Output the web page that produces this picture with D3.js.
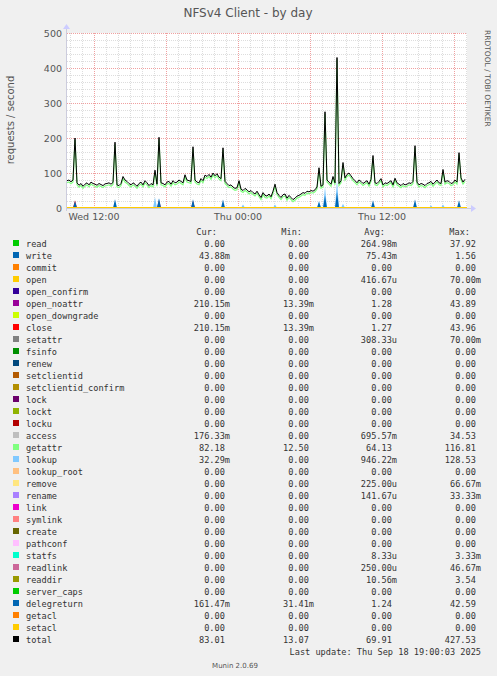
<!DOCTYPE html>
<html>
<head>
<meta charset="utf-8">
<script src="https://cdnjs.cloudflare.com/ajax/libs/d3/7.8.5/d3.min.js"></script>
<style>
  html, body { margin: 0; padding: 0; background: #f0f0f0; }
  svg { display: block; }
  text { font-family: "DejaVu Sans", sans-serif; fill: #555; }
  .mono { font-family: "DejaVu Sans Mono", monospace; font-size: 8.6px; fill: #333; white-space: pre; }
</style>
</head>
<body>
<svg id="chart" width="497" height="676"></svg>
<script>
// total requests/s, 10-minute samples from Wed 09:45
var total = [
  78,80,75,80,200,72,65,70,62,68,
  72,66,74,70,68,65,70,67,64,69,
  70,72,68,73,188,66,64,70,90,80,
  76,70,66,72,68,62,70,74,66,78,
  72,64,70,66,108,68,202,72,70,66,
  74,76,68,78,72,74,80,76,72,95,
  80,78,76,175,80,74,72,84,78,94,
  90,96,88,100,92,98,88,84,172,76,
  70,64,66,60,56,58,78,54,50,56,
  52,46,50,44,40,48,38,30,44,36,
  34,40,32,48,68,44,36,30,38,40,
  28,36,30,24,28,34,36,40,44,42,
  48,46,50,48,52,60,115,62,66,275,
  80,74,68,90,72,430,70,78,130,86,
  96,100,92,84,78,72,80,76,70,74,
  78,68,82,150,72,70,76,84,66,72,
  70,74,78,66,85,72,68,64,70,66,
  68,72,70,76,178,74,66,70,68,64,
  70,72,76,68,74,80,72,70,110,74,
  78,76,70,72,80,74,158,86,74,82
];
// small bursts near the baseline (sample index, value)
var accessSpikes = [[44, 30], [46, 28], [88, 10], [104, 10], [126, 20], [129, 60], [135, 80], [138, 12], [182, 8], [188, 10]];
var writeSpikes = [[4, 20], [24, 25], [46, 27], [63, 25], [78, 24], [126, 18], [129, 35], [135, 45], [153, 22], [174, 24], [196, 22]];
var closeSpikes = [[4, 22], [24, 8], [46, 22], [63, 20], [78, 12], [153, 10], [174, 12], [196, 10]];

var names = ["read","write","commit","open","open_confirm","open_noattr","open_downgrade","close","setattr","fsinfo","renew","setclientid","setclientid_confirm","lock","lockt","locku","access","getattr","lookup","lookup_root","remove","rename","link","symlink","create","pathconf","statfs","readlink","readdir","server_caps","delegreturn","getacl","setacl","total"];
var colors = ["#00cc00","#0066b3","#ff8000","#ffcc00","#330099","#990099","#ccff00","#ff0000","#808080","#008f00","#00487d","#b35a00","#b38f00","#6b006b","#8fb300","#b30000","#bebebe","#80ff80","#80c9ff","#ffc080","#ffe680","#aa80ff","#ee00cc","#ff8080","#666600","#ffbfff","#00ffcc","#cc6699","#999900","#00cc00","#0066b3","#ff8000","#ffcc00","#000000"];
var cur = ["0.00 ","43.88m","0.00 ","0.00 ","0.00 ","210.15m","0.00 ","210.15m","0.00 ","0.00 ","0.00 ","0.00 ","0.00 ","0.00 ","0.00 ","0.00 ","176.33m","82.18 ","32.29m","0.00 ","0.00 ","0.00 ","0.00 ","0.00 ","0.00 ","0.00 ","0.00 ","0.00 ","0.00 ","0.00 ","161.47m","0.00 ","0.00 ","83.01 "];
var min = ["0.00 ","0.00 ","0.00 ","0.00 ","0.00 ","13.39m","0.00 ","13.39m","0.00 ","0.00 ","0.00 ","0.00 ","0.00 ","0.00 ","0.00 ","0.00 ","0.00 ","12.50 ","0.00 ","0.00 ","0.00 ","0.00 ","0.00 ","0.00 ","0.00 ","0.00 ","0.00 ","0.00 ","0.00 ","0.00 ","31.41m","0.00 ","0.00 ","13.07 "];
var avg = ["264.98m","75.43m","0.00 ","416.67u","0.00 ","1.28 ","0.00 ","1.27 ","308.33u","0.00 ","0.00 ","0.00 ","0.00 ","0.00 ","0.00 ","0.00 ","695.57m","64.13 ","946.22m","0.00 ","225.00u","141.67u","0.00 ","0.00 ","0.00 ","0.00 ","8.33u","250.00u","10.56m","0.00 ","1.24 ","0.00 ","0.00 ","69.91 "];
var max = ["37.92 ","1.56 ","0.00 ","70.00m","0.00 ","43.89 ","0.00 ","43.96 ","70.00m","0.00 ","0.00 ","0.00 ","0.00 ","0.00 ","0.00 ","0.00 ","34.53 ","116.81 ","128.53 ","0.00 ","66.67m","33.33m","0.00 ","0.00 ","0.00 ","0.00 ","3.33m","46.67m","3.54 ","0.00 ","42.59 ","0.00 ","0.00 ","427.53 "];
var yTicks = [0, 100, 200, 300, 400, 500];

var svg = d3.select("#chart");
var pLeft = 67, pRight = 467, pTop = 33, pBottom = 208;
var t0 = new Date(2025, 8, 17, 9, 45);
var step = 10 * 60 * 1000;
var x = d3.scaleTime().domain([t0, new Date(+t0 + 200 * step)]).range([pLeft, pRight]);
var y = d3.scaleLinear().domain([0, 500]).range([pBottom, pTop]);
var tAt = function(i) { return new Date(+t0 + i * step); };

svg.append("rect").attr("x", pLeft).attr("y", pTop).attr("width", pRight - pLeft).attr("height", pBottom - pTop).attr("fill", "#fff");

// grid
var g = svg.append("g");
d3.range(0, 501, 20).forEach(function(v) {
  g.append("line").attr("x1", pLeft).attr("x2", pRight).attr("y1", Math.round(y(v)) + .5).attr("y2", Math.round(y(v)) + .5)
    .attr("stroke", v % 100 ? "#ddd" : "#f0a0a0").attr("stroke-dasharray", "1,1");
});
x.ticks(d3.timeHour.every(1)).forEach(function(t) {
  var major = t.getHours() % 6 === 0;
  g.append("line").attr("x1", Math.round(x(t)) + .5).attr("x2", Math.round(x(t)) + .5).attr("y1", pTop).attr("y2", pBottom)
    .attr("stroke", major ? "#f0a0a0" : "#ddd").attr("stroke-dasharray", "1,1");
});

// axes
var yAxis = svg.append("g").attr("transform", "translate(" + pLeft + ",0)")
  .call(d3.axisLeft(y).tickValues(yTicks).tickSize(0).tickPadding(5));
yAxis.select(".domain").remove();
yAxis.selectAll("text").style("font-size", "9.5px").attr("fill", "#555");
var labelTimes = [new Date(2025, 8, 17, 12), new Date(2025, 8, 18, 0), new Date(2025, 8, 18, 12)];
var labelText = ["Wed 12:00", "Thu 00:00", "Thu 12:00"];
labelTimes.forEach(function(t, i) {
  svg.append("text").attr("x", x(t)).attr("y", 220).attr("text-anchor", "middle").style("font-size", "9.5px").text(labelText[i]);
});
svg.append("line").attr("x1", pLeft).attr("x2", pRight + 6).attr("y1", pBottom + .5).attr("y2", pBottom + .5).attr("stroke", "#ccd");
svg.append("line").attr("x1", pLeft - .5).attr("x2", pLeft - .5).attr("y1", pBottom + 3).attr("y2", pTop - 6).attr("stroke", "#ccd");
svg.append("path").attr("d", "M" + (pRight + 4) + "," + (pBottom - 3) + "L" + (pRight + 9) + "," + (pBottom + .5) + "L" + (pRight + 4) + "," + (pBottom + 4) + "Z").attr("fill", "#ccf");
svg.append("path").attr("d", "M" + (pLeft - 4) + "," + (pTop - 4) + "L" + (pLeft - .5) + "," + (pTop - 9) + "L" + (pLeft + 3) + "," + (pTop - 4) + "Z").attr("fill", "#ccf");

// baseline spikes
function spikes(data, color) {
  data.forEach(function(d) {
    var pts = [[d[0] - 1, 0], [d[0], d[1]], [d[0] + 1, 0]];
    svg.append("path").datum(pts)
      .attr("d", d3.area().x(function(p) { return x(tAt(p[0])); }).y0(y(0)).y1(function(p) { return y(p[1]); }))
      .attr("fill", color);
  });
}
spikes(accessSpikes, "#80c9ff");
spikes(closeSpikes, "#ff0000");
spikes(writeSpikes, "#0066b3");
svg.append("line").attr("x1", pLeft).attr("x2", pRight).attr("y1", pBottom - .5).attr("y2", pBottom - .5).attr("stroke", "#ffcc00");

var line = d3.line().x(function(d, i) { return x(tAt(i)); }).y(function(d) { return y(d); });
svg.append("path").datum(total).attr("d", line).attr("fill", "none").attr("stroke", "#80ff80").attr("stroke-width", 1.2).attr("transform", "translate(0,2)");
svg.append("path").datum(total).attr("d", line).attr("fill", "none").attr("stroke", "#000").attr("stroke-width", 1);

// titles
svg.append("text").attr("x", 248).attr("y", 17).attr("text-anchor", "middle").style("font-size", "12px").attr("fill", "#333").text("NFSv4 Client - by day");
svg.append("text").attr("transform", "translate(14,120) rotate(-90)").attr("text-anchor", "middle").style("font-size", "10px").text("requests / second");
svg.append("text").attr("transform", "translate(485,30) rotate(90)").style("font-size", "7.5px").attr("fill", "#bbb").text("RRDTOOL / TOBI OETIKER");

// legend
var hx = [217, 302, 385, 470], vx = [230, 314, 397, 481];
["Cur:", "Min:", "Avg:", "Max:"].forEach(function(h, i) {
  svg.append("text").attr("class", "mono").attr("x", hx[i]).attr("y", 235).attr("text-anchor", "end").text(h);
});
names.forEach(function(n, i) {
  var yy = 247 + i * 12;
  svg.append("rect").attr("x", 13).attr("y", yy - 7).attr("width", 6).attr("height", 6).attr("fill", colors[i]);
  svg.append("text").attr("class", "mono").attr("x", 26).attr("y", yy).text(n);
  [cur, min, avg, max].forEach(function(col, j) {
    svg.append("text").attr("class", "mono").attr("x", vx[j]).attr("y", yy).attr("text-anchor", "end").text(col[i]);
  });
});
svg.append("text").attr("class", "mono").attr("x", 481).attr("y", 655).attr("text-anchor", "end").text("Last update: Thu Sep 18 19:00:03 2025");
svg.append("text").attr("x", 235).attr("y", 668).attr("text-anchor", "middle").style("font-size", "7px").attr("fill", "#bbb").text("Munin 2.0.69");
</script>
</body>
</html>
